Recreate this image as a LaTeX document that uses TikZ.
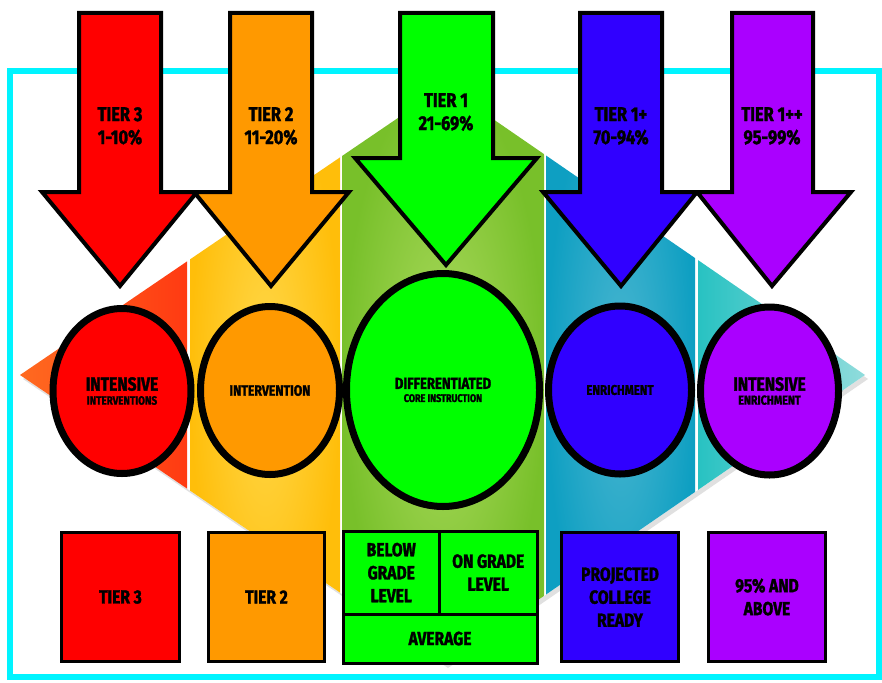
\documentclass[tikz,border=0pt]{standalone}
\usepackage{fontspec}
\setmainfont{Fira Sans}
\newfontfamily\tf{Fira Sans}[FakeStretch=0.82, BoldFeatures={FakeBold=1.6}]
\usetikzlibrary{shapes.geometric,shadows}
\definecolor{cred}{HTML}{FF0000}
\definecolor{corange}{HTML}{FF9900}
\definecolor{cgreen}{HTML}{00FF00}
\definecolor{cblue}{HTML}{3000FF}
\definecolor{cpurple}{HTML}{AA00FF}
\definecolor{cframe}{HTML}{00F4FF}
\definecolor{bandRa}{HTML}{FF6A20}
\definecolor{bandRb}{HTML}{FF3A12}
\definecolor{bandOa}{HTML}{FFD84A}
\definecolor{bandOb}{HTML}{FFBE0A}
\definecolor{bandGa}{HTML}{ABDA5E}
\definecolor{bandGb}{HTML}{78C02A}
\definecolor{bandBa}{HTML}{4AB6D0}
\definecolor{bandBb}{HTML}{0E9FC2}
\definecolor{bandTa}{HTML}{28C2C2}
\definecolor{bandTb}{HTML}{90DCDC}
\tikzset{
  diamondp/.style={insert path={(20,375) -- (445,86) -- (865,375) -- (445,664) -- cycle}},
  tierarrow/.style={draw=black, line width=4, line join=miter},
  arrowtext/.style={font=\tf\bfseries\fontsize{20}{23}\selectfont, align=center, text=black},
  circ/.style={ellipse, draw=black, line width=7, inner sep=0pt, align=center,
    font=\tf\bfseries, text=black},
  box/.style={rectangle, draw=black, line width=3, inner sep=0pt, align=center,
    font=\tf\bfseries\fontsize{19}{23}\selectfont, text=black,
    drop shadow={shadow xshift=1.5pt, shadow yshift=-1.5pt, opacity=0.25}},
}
\begin{document}
\begin{tikzpicture}[x=1pt,y=-1pt]
\useasboundingbox (0,0) rectangle (882,682);
\fill[white] (0,0) rectangle (882,682);
% frame
\draw[cframe, line width=6] (10,71) rectangle (879,677);
% background diamond with shadow
\fill[black!12, xshift=3, yshift=-4, diamondp];
\fill[white, diamondp];
\begin{scope}
  \clip[diamondp];
  \shade[left color=bandRa, right color=bandRb] (20,80) rectangle (187,670);
  \shade[inner color=bandOa, outer color=bandOb] (190,80) rectangle (340,670);
  \shade[inner color=bandGa, outer color=bandGb] (342,80) rectangle (544,670);
  \shade[inner color=bandBa, outer color=bandBb] (546,80) rectangle (695,670);
  \shade[left color=bandTa, right color=bandTb] (698,80) rectangle (865,670);
\end{scope}
% circles
\node[circ, fill=cred, minimum width=138, minimum height=165] (c1) at (122,391)
  {{\fontsize{19}{19}\selectfont INTENSIVE}\\[2pt]{\fontsize{12}{12}\selectfont INTERVENTIONS}};
\node[circ, fill=corange, minimum width=139, minimum height=168] (c2) at (270,390.5)
  {{\fontsize{15}{15}\selectfont INTERVENTION}};
\node[circ, fill=cgreen, minimum width=193, minimum height=233] (c3) at (443,390)
  {{\fontsize{16}{16}\selectfont DIFFERENTIATED}\\[1pt]{\fontsize{11}{11}\selectfont CORE INSTRUCTION}};
\node[circ, fill=cblue, minimum width=143, minimum height=168] (c4) at (620,390)
  {{\fontsize{14}{14}\selectfont ENRICHMENT}};
\node[circ, fill=cpurple, minimum width=138, minimum height=168] (c5) at (769.5,391)
  {{\fontsize{19}{19}\selectfont INTENSIVE}\\[2pt]{\fontsize{13}{13}\selectfont ENRICHMENT}};
% arrows
\draw[tierarrow, fill=cred] (79,13) -- (161,13) -- (161,192) -- (197,192) -- (120,286) -- (42,192) -- (79,192) -- cycle;
\draw[tierarrow, fill=corange] (230,13) -- (312,13) -- (312,192) -- (349,192) -- (271,286) -- (194,192) -- (230,192) -- cycle;
\draw[tierarrow, fill=cgreen] (400,13) -- (493,13) -- (493,158) -- (537,158) -- (446,265) -- (355,158) -- (400,158) -- cycle;
\draw[tierarrow, fill=cblue] (580,13) -- (662,13) -- (662,192) -- (697,192) -- (621,286) -- (543,192) -- (580,192) -- cycle;
\draw[tierarrow, fill=cpurple] (732,13) -- (813,13) -- (813,192) -- (851,192) -- (772,286) -- (697,192) -- (732,192) -- cycle;
\node[arrowtext] (t1) at (120,126) {TIER 3\\1-10\%};
\node[arrowtext] (t2) at (271,126) {TIER 2\\11-20\%};
\node[arrowtext] (t3) at (446,112) {TIER 1\\21-69\%};
\node[arrowtext] (t4) at (621,126) {TIER 1+\\70-94\%};
\node[arrowtext] (t5) at (772,126) {TIER 1++\\95-99\%};
% boxes
\node[box, fill=cred, minimum width=118, minimum height=129] (b1) at (120.5,597) {TIER 3};
\node[box, fill=corange, minimum width=116, minimum height=129] (b2) at (266.5,597) {TIER 2};
\node[box, fill=cgreen, minimum width=96.5, minimum height=83] (b3a) at (391.25,572.5) {BELOW\\GRADE\\LEVEL};
\node[box, fill=cgreen, minimum width=97.5, minimum height=83] (b3b) at (488.25,572.5) {ON GRADE\\LEVEL};
\node[box, fill=cgreen, minimum width=194, minimum height=49] (b3c) at (440,638.5) {AVERAGE};
\node[box, fill=cblue, minimum width=117, minimum height=129] (b4) at (620,597) {PROJECTED\\COLLEGE\\READY};
\node[box, fill=cpurple, minimum width=117, minimum height=129] (b5) at (767,597) {95\% AND\\ABOVE};
\end{tikzpicture}
\end{document}
